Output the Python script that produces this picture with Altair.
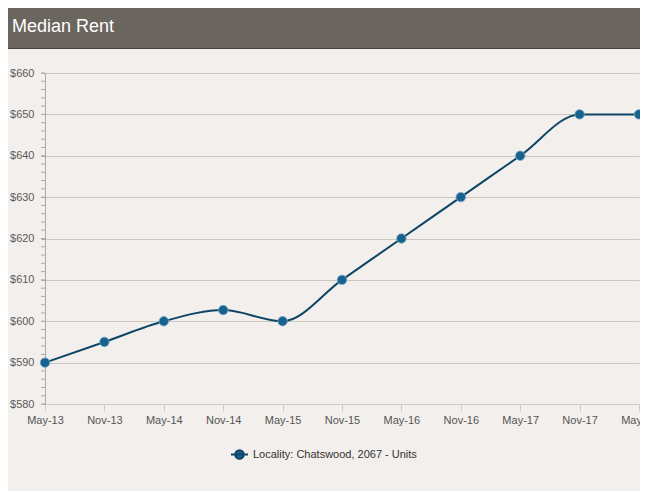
import altair as alt
import pandas as pd

periods = ["May-13", "Nov-13", "May-14", "Nov-14", "May-15", "Nov-15",
           "May-16", "Nov-16", "May-17", "Nov-17", "May-18"]
rents = [590, 595, 600, 602.7, 600, 610, 620, 630, 640, 650, 650]
series = "Locality: Chatswood, 2067 - Units"
minor_ticks = list(range(580, 661, 2))
major_ticks = list(range(580, 661, 10))

df = pd.DataFrame({"period": periods, "rent": rents, "series": [series] * len(periods)})
ticks_df = pd.DataFrame({"rent": minor_ticks})

FONT = "Liberation Sans"
LINE_C = "#0d4566"
PT_C = "#17628f"

x_enc = alt.X("period:O", sort=periods, title=None,
              scale=alt.Scale(type="point", padding=0),
              axis=alt.Axis(labelAngle=0, labelFont=FONT, labelFontSize=11,
                            labelColor="#555", domainColor="#cfcbc7", tickColor="#cfcbc7",
                            tickSize=7, labelPadding=3, grid=False))
y_scale = alt.Scale(domain=[580, 660], nice=False, zero=False)
y_axis = alt.Axis(values=major_ticks, format="$d",
                  labelFont=FONT, labelFontSize=11, labelColor="#5a5a5a",
                  tickSize=4, tickColor="#aaa", domainColor="#aaa",
                  labelPadding=7, gridColor="#c9c5c1", gridWidth=1)
y_enc = alt.Y("rent:Q", scale=y_scale, title=None, axis=y_axis)

line = alt.Chart(df).mark_line(color=LINE_C, strokeWidth=2, interpolate="monotone").encode(
    x=x_enc, y=y_enc)

symbol_path = "M -1 0 L 1 0 M 0.5 0 A 0.5 0.5 0 1 1 -0.5 0 A 0.5 0.5 0 1 1 0.5 0 Z"
points = alt.Chart(df).mark_point(filled=True, size=90, opacity=1, stroke="#7aa8c6",
                                  strokeWidth=0.8).encode(
    x=x_enc, y=y_enc,
    color=alt.Color("series:N", scale=alt.Scale(range=[PT_C]),
                    legend=alt.Legend(title=None, orient="none", legendX=185, legendY=372,
                                      symbolType=symbol_path, symbolSize=289,
                                      symbolStrokeWidth=2, symbolStrokeColor=LINE_C,
                                      symbolFillColor=PT_C, labelLimit=400,
                                      labelFont=FONT, labelFontSize=11, labelColor="#333",
                                      labelOffset=4)))

minor = alt.Chart(ticks_df).mark_rule(color="#aaa", strokeWidth=1).encode(
    y=alt.Y("rent:Q", scale=y_scale, title=None, axis=y_axis),
    x=alt.value(-4), x2=alt.value(0))

header = alt.Chart(pd.DataFrame({"a": [0]})).mark_rect(color="#6b6560").encode(
    x=alt.value(-37), x2=alt.value(600), y=alt.value(-66), y2=alt.value(-25))
header_line = alt.Chart(pd.DataFrame({"a": [0]})).mark_rule(color="#48433f", strokeWidth=1).encode(
    x=alt.value(-37), x2=alt.value(600), y=alt.value(-24.5))
title = alt.Chart(pd.DataFrame({"a": [0]})).mark_text(
    text="Median Rent", font=FONT, fontSize=18, color="#ffffff", align="left",
    baseline="alphabetic").encode(x=alt.value(-33), y=alt.value(-41))

chart = alt.layer(header, header_line, title, minor, line, points).properties(
    width=594, height=331,
    padding={"left": 37, "top": 65, "right": 1, "bottom": 87},
    autosize=alt.AutoSizeParams(type="none"),
    background="#f2efec",
).configure_view(stroke=None)

chart.save("out.html", embed_options={"renderer": "svg", "actions": False})
